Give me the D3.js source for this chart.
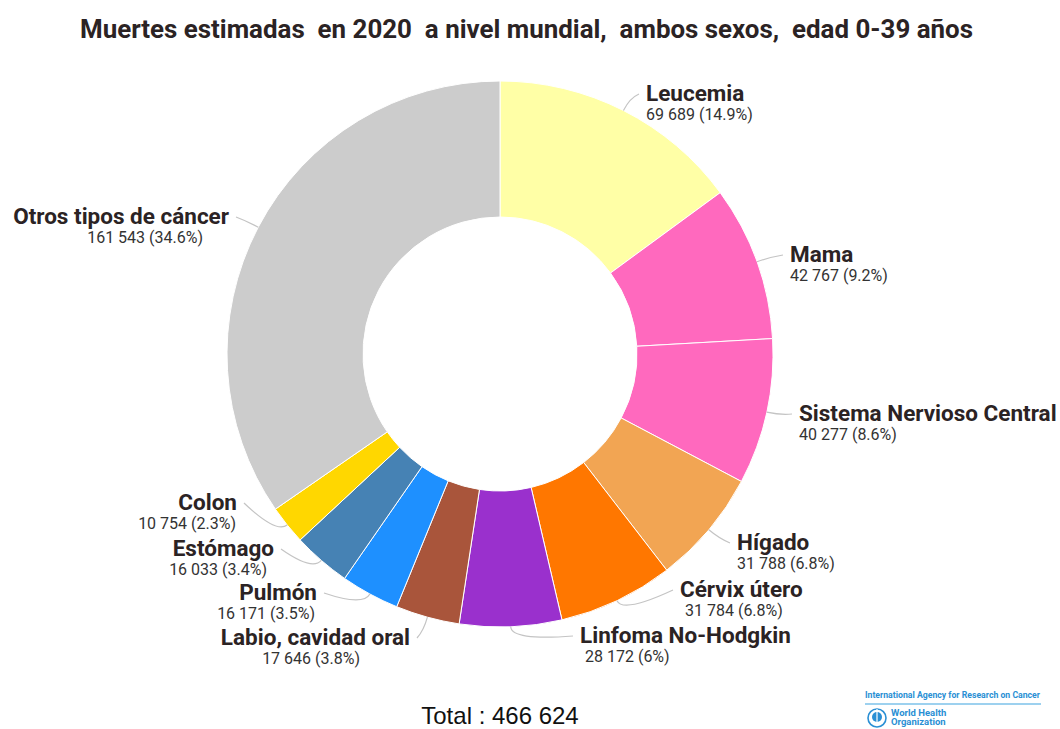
<!DOCTYPE html>
<html>
<head>
<meta charset="utf-8">
<script src="https://cdn.jsdelivr.net/npm/d3@7"></script>
<style>
  body { margin: 0; background: #fff; }
  svg { display: block; }
</style>
</head>
<body>
<script>
// data
const categories = ["Leucemia", "Mama", "Sistema Nervioso Central", "Hígado", "Cérvix útero",
  "Linfoma No-Hodgkin", "Labio, cavidad oral", "Pulmón", "Estómago", "Colon", "Otros tipos de cáncer"];
const deaths = [69689, 42767, 40277, 31788, 31784, 28172, 17646, 16171, 16033, 10754, 161543];
const colors = ["#FFFFA6", "#FF69BE", "#FF69BE", "#F2A553", "#FF7700", "#9A30CD",
  "#A9553B", "#1E90FF", "#4682B4", "#FFD700", "#CCCCCC"];

// label placement (name anchor, value offset) - hand placed like the original
const labelPos = [[646, 101], [790, 262], [799, 421], [737, 550], [680, 597], [580, 643],
  [410, 645], [317, 600], [274, 556], [237, 510], [229, 224]];
const valueDx = [0, 0, 0, 0, 5, 5, -50, -2, -7, -1, -26];

const width = 1060, height = 729;
const cx = 500, cy = 354;
const outerR = 273, innerR = 137;

const total = d3.sum(deaths);
const fmt = n => d3.format(",")(n).replace(/,/g, " ");
const pct = v => {
  const p = Math.round(v / total * 1000) / 10;
  return (p % 1 === 0 ? p.toFixed(0) : p.toFixed(1)) + "%";
};

const svg = d3.select("body").append("svg")
  .attr("width", width)
  .attr("height", height);

svg.append("text")
  .attr("x", 80)
  .attr("y", 38)
  .attr("textLength", 893)
  .attr("lengthAdjust", "spacingAndGlyphs")
  .style("white-space", "pre")
  .attr("font-family", "Roboto, sans-serif")
  .attr("font-weight", "bold")
  .attr("font-size", "25px")
  .attr("fill", "#2b2324")
  .text("Muertes estimadas  en 2020  a nivel mundial,  ambos sexos,  edad 0-39 años");

const pie = d3.pie().sort(null).value(d => d)(deaths);
const arc = d3.arc().innerRadius(innerR).outerRadius(outerR);

const g = svg.append("g").attr("transform", `translate(${cx},${cy})`);

g.selectAll("path")
  .data(pie)
  .enter()
  .append("path")
  .attr("d", arc)
  .attr("fill", (d, i) => colors[i])
  .attr("stroke", "#fff")
  .attr("stroke-width", 1);

// leader lines
const polar = (r, a) => [r * Math.sin(a), -r * Math.cos(a)];

g.selectAll("path.leader")
  .data(pie)
  .enter()
  .append("path")
  .attr("class", "leader")
  .attr("fill", "none")
  .attr("stroke", "#c4c4c4")
  .attr("stroke-width", 1.2)
  .attr("d", function(d, i) {
    const a = (d.startAngle + d.endAngle) / 2;
    const s = polar(outerR, a);
    const e = polar(outerR + 14, a);
    const right = Math.sin(a) > 0.02;
    const t = [labelPos[i][0] - cx + (right ? -7 : 7), labelPos[i][1] - cy - 7];
    return "M" + s + "Q" + e + " " + t;
  });

const labels = svg.selectAll("g.label")
  .data(pie)
  .enter()
  .append("g")
  .attr("class", "label");

labels.append("text")
  .attr("x", (d, i) => labelPos[i][0])
  .attr("y", (d, i) => labelPos[i][1])
  .attr("text-anchor", d => Math.sin((d.startAngle + d.endAngle) / 2) > 0.02 ? "start" : "end")
  .attr("font-family", "Roboto, sans-serif")
  .attr("font-weight", "bold")
  .attr("font-size", "22.5px")
  .attr("fill", "#2b2324")
  .text((d, i) => categories[i]);

labels.append("text")
  .attr("x", (d, i) => labelPos[i][0] + valueDx[i])
  .attr("y", (d, i) => labelPos[i][1] + 19)
  .attr("text-anchor", d => Math.sin((d.startAngle + d.endAngle) / 2) > 0.02 ? "start" : "end")
  .attr("font-family", "Roboto, sans-serif")
  .attr("font-size", "16px")
  .attr("fill", "#333")
  .text(d => fmt(d.value) + " (" + pct(d.value) + ")");

svg.append("text")
  .attr("x", 500)
  .attr("y", 724)
  .attr("text-anchor", "middle")
  .attr("font-family", "'Liberation Sans', Arial, sans-serif")
  .attr("font-size", "24px")
  .attr("fill", "#111")
  .text("Total : " + fmt(total));

// IARC / WHO logo
const logo = svg.append("g").attr("transform", "translate(865,0)");
logo.append("text")
  .attr("x", 0).attr("y", 698)
  .attr("textLength", 175).attr("lengthAdjust", "spacingAndGlyphs")
  .attr("font-family", "Roboto, sans-serif")
  .attr("font-weight", "bold")
  .attr("font-size", "8.6px")
  .attr("fill", "#2a8fd4")
  .text("International Agency for Research on Cancer");
logo.append("line")
  .attr("x1", 0).attr("x2", 176)
  .attr("y1", 704).attr("y2", 704)
  .attr("stroke", "#7cc2ea").attr("stroke-width", 1.5);
logo.append("circle")
  .attr("cx", 12).attr("cy", 718).attr("r", 9)
  .attr("fill", "none").attr("stroke", "#2a8fd4").attr("stroke-width", 1.6);
logo.append("circle")
  .attr("cx", 12).attr("cy", 717).attr("r", 5)
  .attr("fill", "#2a8fd4");
logo.append("line")
  .attr("x1", 12).attr("x2", 12).attr("y1", 709).attr("y2", 726)
  .attr("stroke", "#fff").attr("stroke-width", 1.2);
logo.append("text")
  .attr("x", 26).attr("y", 716)
  .attr("font-family", "Roboto, sans-serif").attr("font-weight", "bold")
  .attr("font-size", "9.5px").attr("fill", "#2a8fd4")
  .text("World Health");
logo.append("text")
  .attr("x", 26).attr("y", 725)
  .attr("font-family", "Roboto, sans-serif").attr("font-weight", "bold")
  .attr("font-size", "9.5px").attr("fill", "#2a8fd4")
  .text("Organization");
</script>
</body>
</html>
